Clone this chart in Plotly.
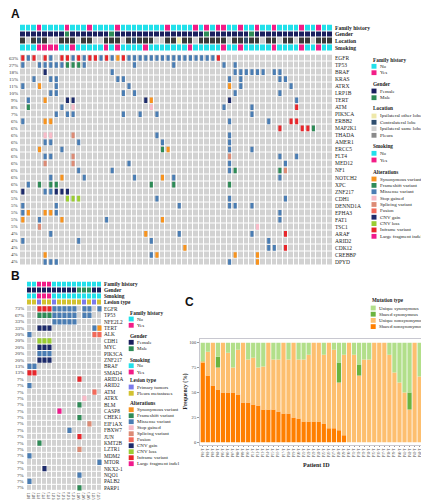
import plotly.graph_objects as go

W, H = 429, 500
SERIF = "Liberation Serif"
SANS = "Liberation Sans"
TXT = "#222222"
CELL_GRAY = "#D2D2D2"

# ---------------- Panel A data ----------------
A_genes = ["EGFR", "TP53", "BRAF", "KRAS", "ATRX", "LRP1B", "TERT", "ATM", "PIK3CA", "ERBB2",
           "MAP2K1", "THADA", "AMER1", "ERCC5", "FLT4", "MED12", "NF1", "NOTCH2", "XPC", "ZNF217",
           "CDH1", "DENND1A", "EPHA3", "FAT1", "TSC1", "ARAF", "ARID2", "CDK12", "CREBBP", "DPYD"]
A_pct = ["63%", "27%", "18%", "15%", "11%", "10%", "9%", "8%", "7%", "6%",
         "6%", "6%", "6%", "6%", "6%", "6%", "6%", "6%", "6%", "6%",
         "5%", "5%", "5%", "5%", "5%", "4%", "4%", "4%", "4%", "4%"]
# one string per gene, one character per sample ('.' = no alteration)
A_rows = [
    "imi.im.iim imiimimsim mmmmmmmmmm mmmmmi.... .......... ......",
    "m..mmmmmff fm........ m......m.. ......m.m. .......... ......",
    "....g..... ......m... .......... ........mm mmmm.mm... ......",
    "..m..mm... .......mm. .......... .......m.m ......mm.. ......",
    "m..s..m... .........m .......... .......s.m ........m. ......",
    ".....mm... ........m. m......... ........m. ......m... ......",
    ".m..s...gg .......... ..gs...... .......g.. .........m ......",
    ".f.....m.t .......... ...t...... ......m... .m.......i ......",
    "......m.mm ........m. .m..m..... .......... .m........ ......",
    "m...ss.... .......... .......... .......m.. ....m...ii ......",
    ".......... .......... .......... .......... ......i... iif...",
    "....tt...p .......... ....m..... .......m.. .......... ......",
    "....mm.... m......... .....m.... .......m.. .......... ......",
    "...s...m.. .......... .....fs... .......m.. .m........ ......",
    "....mm...p .......... .......... .......p.. ......m..m ......",
    "....p....p .........m .......... .......m.. .......m.. ......",
    ".......... m.....m... .......... .......mf. ......fp.. ......",
    ".....m.s.. .m........ m....s.m.. .......... ......m... ......",
    ".m.f.ff... .......... ...f...f.. .......f.. .......... ......",
    "g...mmggg. .......... .......... .......... .......... ......",
    "........ll l......... ....m..... .......m.. .......m.. ......",
    "m.....m... .......... ........m. .......mm. .m........ ......",
    "ms..ssm... .......... .......... .......... ......m... ......",
    "s..m...s.. .....m.... .....s.... .......... ......m... ......",
    "...p...... .......... .......... .......... ..t....... ......",
    ".....m.... .......... ..s.....m. .......... .m.....i.. ......",
    "m......... m......... ...m...... .......... ....m..... ......",
    ".......... .......... .........s .......... ....mm.i.. ......",
    "....s..... .......... ...ms..... ........s. ..s....... ......",
    "....mmm... .......... .......... .......m.. ..s....... ......",
]
A_family = "NNNYNNNNYN NNYNNNNYNN NNNNNNYNNN NYNYNYYNNY NNYNNYNNNN YNNYNN"
A_gender = "FFFFFFFFMF FFFFFFMFFF FFFFFFFFFF FFFMFFFFFF FMFFFFFFFF FFFFFF"
A_location = "pspcpssppp sppsspppsp cpppssppop pspppppspp cppsppspps ppsppp"
A_smoking = "NNNYYYYNNY NNNNNYNYNN NNYNNNNNNN YNNNNNYNNY NNNNNYNNNN YNNYNN"

# ---------------- Panel B data ----------------
B_samples = ["P4T1", "P4T2", "P7T1", "P7T2", "P7T3", "P13T1", "P13T2", "P13T3",
             "P13T4", "P13T5", "P20T1", "P20T2", "P20T3", "P21T1", "P21T2"]
B_genes = ["EGFR", "TP53", "NFE2L2", "TERT", "ALK", "CDH1", "MYC", "PIK3CA", "ZNF217", "BRAF",
           "SMAD4", "ARID1A", "ARID2", "ATM", "ATRX", "BLM", "CASP8", "CHEK1", "EIF1AX", "FBXW7",
           "JUN", "KMT2B", "LZTR1", "MDM2", "MTOR", "NKX2-1", "NQO1", "PALB2", "PARP1"]
B_pct = ["73%", "67%", "33%", "33%", "20%", "20%", "20%", "20%", "20%", "13%", "13%"] + ["7%"] * 18
B_rows = [
    "..iiimmmmm.mm.m", "..fffmmmmm.mm..", ".....mmmmm.....", "..ggg........ms",
    "m............uu", "..lll..........", "..ggg..........", "..mmm..........",
    "..ggg..........", "mm.............", "ii.............", "..........i....",
    "m..............", ".............u.", "...........t...", "..........f....",
    "......x........", "..........f....", "............p..", "........m......",
    "..........i....", "..f............", "..........p....", "m..............",
    "..............m", "...g...........", "..........m....", "m..............",
    "..........f....",
]
B_family = "NNYYYNNNNNNNNNN"
B_gender = "FFFFFFFFFFMMMFF"
B_smoking = "NNYYYNNNNNNNNNN"
B_lesion = "MMPMMPMMMMMPMPM"

# ---------------- Panel C data ----------------
C_patients = ["P%02d-T" % i for i in range(1, 47)]
C_shared_nonsyn = [80, 67, 57, 53, 50, 50, 50, 48, 40, 40, 38, 37, 33, 33, 33, 31, 29, 29, 25, 24,
                   21, 21, 21, 21, 19, 14, 14, 12, 7, 0, 0, 0, 0, 0, 0, 0, 0, 0, 0, 0,
                   0, 0, 0, 0, 0, 0]
C_unique_nonsyn = [1, 24, 43, 22, 50, 40, 25, 45, 60, 43, 47, 38, 43, 67, 50, 52, 71, 54, 75, 59,
                   62, 67, 79, 79, 69, 86, 79, 48, 81, 100, 88, 67, 83, 83, 100, 100, 100, 88, 70, 60,
                   50, 33, 100, 66, 100, 33]
C_shared_syn = [0, 0, 0, 11, 0, 0, 0, 0, 0, 0, 0, 0, 0, 0, 0, 0, 0, 0, 0, 0,
                0, 0, 0, 0, 0, 0, 0, 20, 0, 0, 0, 11, 0, 0, 0, 0, 0, 0, 0, 0,
                0, 17, 0, 0, 0, 33]
C_unique_syn = [19, 9, 0, 14, 0, 10, 25, 7, 0, 17, 15, 25, 24, 0, 17, 17, 0, 17, 0, 17,
                17, 12, 0, 0, 12, 0, 7, 20, 12, 0, 12, 22, 17, 17, 0, 0, 0, 12, 30, 40,
                50, 50, 0, 34, 0, 34]

# ---------------- styling ----------------
ALT_CODES = ["s", "f", "m", "t", "p", "u", "g", "l", "i", "x"]
ALT_LABELS = ["Synonymous variant", "Frameshift variant", "Missense variant", "Stop gained",
              "Splicing variant", "Fusion", "CNV gain", "CNV loss", "Inframe variant",
              "Large fragment indel"]
ALT_COLORS = ["#F7931E", "#2E8B57", "#4A7DB3", "#F8BBC8", "#DC8B75", "#F26A5A",
              "#1D2B6B", "#9ACD32", "#E8262B", "#F0198C"]
CYAN, PINK = "#22E0EA", "#F21D87"
NAVY, GREEN = "#1A1F5E", "#2E8B57"
LOC_COLORS = ["#EEE8AA", "#2F4E6E", "#CFCFCF", "#3A3A3A"]
PRIM, PLEU = "#7B7BEA", "#D2C230"
C_COLORS = ["#FF7F00", "#FDBF6F", "#6BB43F", "#B2DF8A"]
C_LABELS = ["Shared nonsynonymous", "Unique nonsynonymous", "Shared synonymous", "Unique synonymous"]


def dom_x(a, b):
    return [a / W, b / W]


def dom_y(top, bottom):
    return [1 - bottom / H, 1 - top / H]


def px(x):
    return x / W


def py(y):
    return 1 - y / H


def clean(s):
    return s.replace(" ", "")


def discrete_scale(colors):
    n = len(colors)
    cs = []
    for i, c in enumerate(colors):
        cs.append([i / n, c])
        cs.append([(i + 1) / n, c])
    return cs


fig = go.Figure()


def add_tracks(tracks, maps, palette, xa, ya):
    z = [[m[ch] for ch in clean(t)] for t, m in zip(tracks, maps)]
    fig.add_trace(go.Heatmap(z=z, colorscale=discrete_scale(palette), zmin=-0.5,
                             zmax=len(palette) - 0.5, xgap=1, ygap=1, showscale=False,
                             hoverinfo="skip", xaxis=xa, yaxis=ya))


def add_grid(rows, xa, ya, bw, bh):
    rows = [clean(r) for r in rows]
    n = len(rows[0])
    fig.add_trace(go.Heatmap(z=[[0] * n for _ in rows], colorscale=[[0, CELL_GRAY], [1, CELL_GRAY]],
                             xgap=1, ygap=1, showscale=False, hoverinfo="skip",
                             xaxis=xa, yaxis=ya))
    for code, color in zip(ALT_CODES, ALT_COLORS):
        xs, bases = [], []
        for r, s in enumerate(rows):
            for c, ch in enumerate(s):
                if ch == code:
                    xs.append(c)
                    bases.append(r - bh / 2)
        if xs:
            fig.add_trace(go.Bar(x=xs, y=[bh] * len(xs), base=bases, width=bw,
                                 marker=dict(color=color, line=dict(width=0)),
                                 showlegend=False, hoverinfo="skip", xaxis=xa, yaxis=ya))
    return n


# ---- Panel A ----
fam_map = {"N": 0, "Y": 1}
gen_map = {"F": 2, "M": 3}
loc_map = {"o": 4, "c": 5, "s": 6, "p": 7}
A_palette = [CYAN, PINK, NAVY, GREEN] + LOC_COLORS
add_tracks([A_family, A_gender, A_location, A_smoking], [fam_map, gen_map, loc_map, fam_map],
           A_palette, "x", "y")
NA = add_grid(A_rows, "x2", "y2", 0.55, 0.8)

# ---- Panel B ----
les_map = {"M": 5, "P": 4}
B_palette = [CYAN, PINK, NAVY, GREEN, PRIM, PLEU]
add_tracks([B_family, B_gender, B_smoking, B_lesion], [fam_map, gen_map, fam_map, les_map],
           B_palette, "x3", "y3")
NB = add_grid(B_rows, "x4", "y4", 0.82, 0.82)

# ---- Panel C ----
xs_c = list(range(1, len(C_patients) + 1))
series = [C_shared_nonsyn, C_unique_nonsyn, C_shared_syn, C_unique_syn]
base = [0] * len(xs_c)
for vals, color, name in zip(series, C_COLORS, C_LABELS):
    fig.add_trace(go.Bar(x=xs_c, y=vals, base=list(base), width=0.84, name=name,
                         marker=dict(color=color, line=dict(width=0)), showlegend=False,
                         hoverinfo="skip", xaxis="x5", yaxis="y5"))
    base = [b + v for b, v in zip(base, vals)]

hidden = dict(showgrid=False, zeroline=False, showticklabels=False, ticks="", showline=False)

layout = dict(
    width=W, height=H, margin=dict(l=0, r=0, t=0, b=0), template="none",
    paper_bgcolor="white", plot_bgcolor="white", barmode="overlay", hovermode=False,
    showlegend=False,
    xaxis=dict(domain=dom_x(12, 325), range=[-0.5, NA - 0.5], anchor="y", **hidden),
    yaxis=dict(domain=dom_y(16.5, 43), range=[3.5, -0.5], anchor="x", side="right",
               tickvals=[0, 1, 2, 3],
               ticktext=["<b>Family history</b>", "<b>Gender</b>", "<b>Location</b>", "<b>Smoking</b>"],
               tickfont=dict(family=SERIF, size=5.6, color=TXT), showgrid=False, zeroline=False,
               ticks="", ticklabelstandoff=1),
    xaxis2=dict(domain=dom_x(12, 325), range=[-0.5, NA - 0.5], anchor="y2", **hidden),
    yaxis2=dict(domain=dom_y(46.5, 257.5), range=[len(A_genes) - 0.5, -0.5], anchor="x2",
                side="right", tickvals=list(range(len(A_genes))), ticktext=A_genes,
                tickfont=dict(family=SERIF, size=5.5, color=TXT), showgrid=False, zeroline=False,
                ticks="", ticklabelstandoff=1),
    xaxis3=dict(domain=dom_x(19, 94), range=[-0.5, NB - 0.5], anchor="y3", **hidden),
    yaxis3=dict(domain=dom_y(273.5, 297), range=[3.5, -0.5], anchor="x3", side="right",
                tickvals=[0, 1, 2, 3],
                ticktext=["<b>Family history</b>", "<b>Gender</b>", "<b>Smoking</b>", "<b>Lesion type</b>"],
                tickfont=dict(family=SERIF, size=5.4, color=TXT), showgrid=False, zeroline=False,
                ticks="", ticklabelstandoff=1),
    xaxis4=dict(domain=dom_x(19, 94), range=[-0.5, NB - 0.5], anchor="y4", showgrid=False,
                zeroline=False, tickvals=list(range(NB)), ticktext=B_samples, tickangle=-90,
                tickfont=dict(family=SERIF, size=3.0, color=TXT), ticks="", ticklabelstandoff=0),
    yaxis4=dict(domain=dom_y(297.8, 483), range=[len(B_genes) - 0.5, -0.5], anchor="x4",
                side="right", tickvals=list(range(len(B_genes))), ticktext=B_genes,
                tickfont=dict(family=SERIF, size=5.3, color=TXT), showgrid=False, zeroline=False,
                ticks="", ticklabelstandoff=1),
    xaxis5=dict(domain=dom_x(192, 424.5), range=[0.45, len(xs_c) + 0.55], anchor="y5",
                showgrid=False, zeroline=False, tickvals=xs_c, ticktext=C_patients, tickangle=-90,
                tickfont=dict(family=SERIF, size=3.3, color="#555"), ticks="outside", ticklen=1.5,
                tickcolor="#999", tickwidth=0.5, showline=True, mirror=True, linecolor="#C8C8D0",
                linewidth=0.8),
    yaxis5=dict(domain=dom_y(331, 437), range=[-2.7, 103.7], anchor="x5", showgrid=False,
                zeroline=False, tickvals=[0, 25, 50, 75, 100], tickfont=dict(family=SERIF, size=4.6, color="#444"),
                ticks="outside", ticklen=2, tickcolor="#999", tickwidth=0.5, showline=True, mirror=True,
                linecolor="#C8C8D0", linewidth=0.8),
)
fig.update_layout(**layout)

ann = []
shapes = []

# panel letters
for letter, x, y in [("A", 1, 6), ("B", 1, 267.5), ("C", 175, 294)]:
    ann.append(dict(text="<b>%s</b>" % letter, x=px(x), y=py(y), xref="paper", yref="paper",
                    xanchor="left", yanchor="middle", showarrow=False,
                    font=dict(family=SANS, size=12, color="#111")))

# percentage labels
for i, p in enumerate(A_pct):
    ann.append(dict(text=p, x=px(11.5), y=i, xref="paper", yref="y2", xanchor="right",
                    yanchor="middle", showarrow=False, font=dict(family=SERIF, size=5, color="#333")))
for i, p in enumerate(B_pct):
    ann.append(dict(text=p, x=px(18), y=i, xref="paper", yref="y4", xanchor="right",
                    yanchor="middle", showarrow=False, font=dict(family=SERIF, size=5, color="#333")))


def legend_block(xs, entries, size=5.2):
    for y, label, color in entries:
        if color is None:
            ann.append(dict(text="<b>%s</b>" % label, x=px(xs - 0.5), y=py(y), xref="paper",
                            yref="paper", xanchor="left", yanchor="middle", showarrow=False,
                            font=dict(family=SERIF, size=size + 0.3, color=TXT)))
        else:
            shapes.append(dict(type="rect", xref="paper", yref="paper", x0=px(xs), x1=px(xs + 5),
                               y0=py(y + 2.4), y1=py(y - 2.4), fillcolor=color,
                               line=dict(width=0)))
            ann.append(dict(text=label, x=px(xs + 6), y=py(y), xref="paper", yref="paper",
                            xanchor="left", yanchor="middle", showarrow=False,
                            font=dict(family=SERIF, size=size, color=TXT)))


alt_A = [(171 + 6.37 * k, ALT_LABELS[k], ALT_COLORS[k]) for k in range(10)]
legend_block(363.5, [
    (51.7, "Family history", None), (58.3, "No", CYAN), (64.7, "Yes", PINK),
    (76, "Gender", None), (83, "Female", NAVY), (89.7, "Male", GREEN),
    (100.3, "Location", None), (108, "Ipsilateral other lobes", LOC_COLORS[0]),
    (114.3, "Contralateral lobe", LOC_COLORS[1]), (120.7, "Ipsilateral same lobe", LOC_COLORS[2]),
    (127.3, "Pleura", "#8A8A8A"),
    (138.3, "Smoking", None), (145.3, "No", CYAN), (152, "Yes", PINK),
    (164, "Alterations", None)] + alt_A, size=5.0)

alt_B = [(401.7 + 6.0 * k, ALT_LABELS[k], ALT_COLORS[k]) for k in range(10)]
legend_block(120.7, [
    (305, "Family history", None), (311, "No", CYAN), (317.3, "Yes", PINK),
    (328.3, "Gender", None), (334.3, "Female", NAVY), (340.7, "Male", GREEN),
    (351.7, "Smoking", None), (357.7, "No", CYAN), (364, "Yes", PINK),
    (372.3, "Lesion type", None), (379, "Primary tumors", PRIM), (385.3, "Pleura metastases", PLEU),
    (395, "Alterations", None)] + alt_B, size=5.0)

legend_block(362.7, [
    (292.3, "Mutation type", None),
    (300, C_LABELS[3], C_COLORS[3]), (306.2, C_LABELS[2], C_COLORS[2]),
    (312.4, C_LABELS[1], C_COLORS[1]), (318.6, C_LABELS[0], C_COLORS[0])], size=4.8)

# panel C axis titles
ann.append(dict(text="<b>Frequency (%)</b>", x=px(176.5), y=py(384), xref="paper", yref="paper",
                textangle=-90, showarrow=False, xanchor="center", yanchor="middle",
                font=dict(family=SERIF, size=5.6, color=TXT)))
ann.append(dict(text="<b>Patient ID</b>", x=px(308), y=py(457), xref="paper", yref="paper",
                showarrow=False, xanchor="center", yanchor="middle",
                font=dict(family=SERIF, size=6, color=TXT)))

fig.update_layout(annotations=ann, shapes=shapes)
fig.write_html("out.html")
